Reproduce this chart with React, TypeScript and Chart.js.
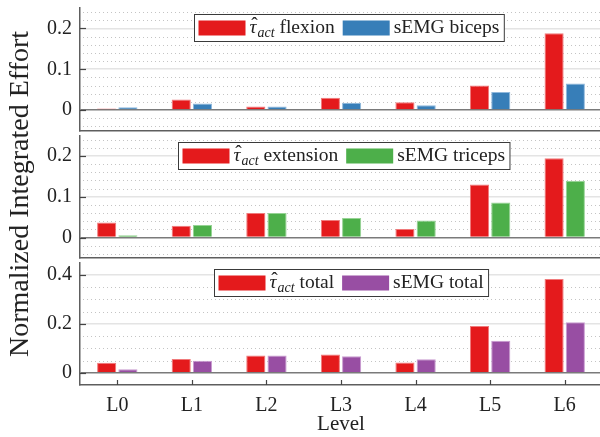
import React, { useEffect, useRef } from 'react';
import { Chart, registerables } from 'chart.js';

Chart.register(...registerables);

const FAMILY = "'Liberation Serif', 'DejaVu Serif', serif";

const levels = ['L0', 'L1', 'L2', 'L3', 'L4', 'L5', 'L6'];

const tauFlexion = [0.004, 0.026, 0.009, 0.030, 0.019, 0.060, 0.188];
const semgBiceps = [0.007, 0.016, 0.009, 0.018, 0.012, 0.044, 0.065];
const tauExtension = [0.037, 0.029, 0.060, 0.043, 0.021, 0.130, 0.194];
const semgTriceps = [0.006, 0.031, 0.060, 0.048, 0.042, 0.086, 0.139];
const tauTotal = [0.041, 0.056, 0.070, 0.074, 0.042, 0.191, 0.383];
const semgTotal = [0.014, 0.049, 0.070, 0.067, 0.055, 0.131, 0.206];

const yTicksSmall = [0, 0.1, 0.2];
const yTicksLarge = [0, 0.2, 0.4];

const RED = '#e41a1c';
const BLUE = '#377eb8';
const GREEN = '#4daf4a';
const PURPLE = '#984ea3';

type PanelDef = {
  top: number;
  height: number;
  padTop: number;
  padBottom: number;
  xHeight: number;
  min: number;
  max: number;
  ticks: number[];
  minorStep: number;
  series: number[][];
  colors: string[];
  edges: string[];
  tauWord: string;
  semgLabel: string;
  legendCenter: number;
  showX: boolean;
};

const panels: PanelDef[] = [
  {
    top: 0, height: 133, padTop: 8, padBottom: 2.5, xHeight: 0,
    min: -0.05, max: 0.25, ticks: yTicksSmall, minorStep: 0.02,
    series: [tauFlexion, semgBiceps], colors: [RED, BLUE], edges: ['#f07a7b', '#8fb8dc'],
    tauWord: 'flexion', semgLabel: 'sEMG biceps', legendCenter: 348.5, showX: false,
  },
  {
    top: 133, height: 127, padTop: 2.5, padBottom: 2, xHeight: 0,
    min: -0.05, max: 0.25, ticks: yTicksSmall, minorStep: 0.02,
    series: [tauExtension, semgTriceps], colors: [RED, GREEN], edges: ['#f07a7b', '#96d394'],
    tauWord: 'extension', semgLabel: 'sEMG triceps', legendCenter: 343.7, showX: false,
  },
  {
    top: 260, height: 177, padTop: 2.5, padBottom: 0, xHeight: 52,
    min: -0.05, max: 0.45, ticks: yTicksLarge, minorStep: 0.05,
    series: [tauTotal, semgTotal], colors: [RED, PURPLE], edges: ['#f07a7b', '#c99bd0'],
    tauWord: 'total', semgLabel: 'sEMG total', legendCenter: 351.2, showX: true,
  },
];

function drawLegend(ctx: CanvasRenderingContext2D, chart: any, p: PanelDef) {
  const area = chart.chartArea;
  const fs = 19.5;
  const reg = `${fs}px ${FAMILY}`;
  const ital = `italic ${fs}px ${FAMILY}`;
  const sub = `italic 14px ${FAMILY}`;
  ctx.save();
  ctx.font = ital;
  const wTau = ctx.measureText('τ').width;
  ctx.font = sub;
  const wSub = ctx.measureText('act').width;
  ctx.font = reg;
  const wWord = ctx.measureText(' ' + p.tauWord).width;
  const wSemg = ctx.measureText(p.semgLabel).width;
  const pad = 4, sw = 47, sh = 15, gapT = 4, gapItem = 8, padR = 5;
  const w1 = wTau + 1 + wSub + wWord;
  const total = pad + sw + gapT + w1 + gapItem + sw + gapT + wSemg + padR;
  const h = 27;
  const x0 = Math.round(p.legendCenter - total / 2) + 0.5;
  const y0 = Math.round(area.top + 6) + 0.5;
  ctx.fillStyle = '#ffffff';
  ctx.fillRect(x0, y0, total, h);
  ctx.strokeStyle = '#3a3a3a';
  ctx.lineWidth = 1;
  ctx.strokeRect(x0, y0, total, h);
  const cy = y0 + h / 2;
  let x = x0 + pad;
  ctx.fillStyle = p.colors[0];
  ctx.fillRect(x, cy - sh / 2, sw, sh);
  x += sw + gapT;
  ctx.fillStyle = '#222222';
  ctx.textAlign = 'left';
  ctx.textBaseline = 'alphabetic';
  const base = cy + 5;
  ctx.font = ital;
  ctx.fillText('τ', x, base);
  ctx.font = `${fs}px ${FAMILY}`;
  ctx.textAlign = 'center';
  ctx.fillText('ˆ', x + wTau / 2 + 1.5, base - 3);
  ctx.textAlign = 'left';
  x += wTau + 1;
  ctx.font = sub;
  ctx.fillText('act', x, base + 4);
  x += wSub;
  ctx.font = reg;
  ctx.fillText(' ' + p.tauWord, x, base);
  x += wWord + gapItem;
  ctx.fillStyle = p.colors[1];
  ctx.fillRect(x, cy - sh / 2, sw, sh);
  x += sw + gapT;
  ctx.fillStyle = '#222222';
  ctx.fillText(p.semgLabel, x, base);
  ctx.restore();
}

function PanelChart({ p }: { p: PanelDef }) {
  const ref = useRef<HTMLCanvasElement | null>(null);
  useEffect(() => {
    if (!ref.current) return;
    const decor = {
      id: 'decor' + p.top,
      beforeDatasetsDraw(chart: any) {
        const ctx = chart.ctx as CanvasRenderingContext2D;
        const area = chart.chartArea;
        const y = chart.scales.y;
        ctx.save();
        ctx.strokeStyle = '#c4c4c4';
        ctx.lineWidth = 1;
        ctx.setLineDash([1, 3]);
        const kStart = Math.ceil(p.min / p.minorStep - 1e-9);
        const kEnd = Math.floor(p.max / p.minorStep + 1e-9);
        for (let k = kStart; k <= kEnd; k++) {
          const v = k * p.minorStep;
          if (Math.abs(v - p.min) < 1e-9 || Math.abs(v - p.max) < 1e-9) continue;
          if (p.ticks.some((t) => Math.abs(t - v) < 1e-9)) continue;
          const py = Math.round(y.getPixelForValue(v)) + 0.5;
          ctx.beginPath();
          ctx.moveTo(area.left + 3, py);
          ctx.lineTo(area.right, py);
          ctx.stroke();
        }
        ctx.restore();
      },
      afterDraw(chart: any) {
        const ctx = chart.ctx as CanvasRenderingContext2D;
        const area = chart.chartArea;
        const y = chart.scales.y;
        const xs = chart.scales.x;
        ctx.save();
        ctx.strokeStyle = '#444444';
        ctx.lineWidth = 1.2;
        for (const t of p.ticks) {
          const py = Math.round(y.getPixelForValue(t)) + 0.5;
          ctx.beginPath();
          ctx.moveTo(area.left, py);
          ctx.lineTo(area.left + 6, py);
          ctx.stroke();
        }
        if (p.showX) {
          for (let i = 0; i < levels.length; i++) {
            const px = Math.round(xs.getPixelForTick(i)) + 0.5;
            ctx.beginPath();
            ctx.moveTo(px, area.bottom);
            ctx.lineTo(px, area.bottom - 5);
            ctx.stroke();
          }
        }
        ctx.restore();
        drawLegend(ctx, chart, p);
      },
    };
    const chart = new Chart(ref.current, {
      type: 'bar',
      data: {
        labels: levels,
        datasets: p.series.map((s, i) => ({
          data: s,
          backgroundColor: p.colors[i],
          borderColor: p.edges[i],
          borderWidth: 1,
          categoryPercentage: 0.57,
          barPercentage: 0.9,
        })),
      },
      options: {
        responsive: false,
        maintainAspectRatio: false,
        animation: false,
        layout: { padding: { top: p.padTop, bottom: p.padBottom, left: 0, right: 2 } },
        plugins: { legend: { display: false }, tooltip: { enabled: false } },
        scales: {
          x: {
            grid: { display: false, drawTicks: false },
            border: { display: true, color: '#5e5e5e', width: 1.5 },
            ticks: {
              display: p.showX,
              font: { family: FAMILY, size: 20 },
              color: '#222222',
              padding: 9,
              maxRotation: 0,
            },
            title: {
              display: p.showX,
              text: 'Level',
              font: { family: FAMILY, size: 21 },
              color: '#222222',
              padding: { top: 0, bottom: 0 },
            },
            afterFit: (s: any) => {
              s.height = p.xHeight;
              s.paddingLeft = 0;
              s.paddingRight = 0;
              s.paddingTop = 0;
              s.paddingBottom = 0;
            },
          },
          y: {
            min: p.min,
            max: p.max,
            afterBuildTicks: (s: any) => {
              s.ticks = p.ticks.map((v) => ({ value: v }));
            },
            ticks: {
              font: { family: FAMILY, size: 20 },
              color: '#222222',
              padding: 8,
              callback: (v: any) => {
                const n = Number(v);
                return Math.abs(n) < 1e-9 ? '0' : String(Math.round(n * 10) / 10);
              },
            },
            grid: {
              drawTicks: false,
              color: (c: any) => (c.tick && Math.abs(c.tick.value) < 1e-9 ? '#7a7a7a' : '#e4e4e4'),
              lineWidth: 1.5,
            },
            border: { display: true, color: '#5e5e5e', width: 1.5 },
            afterFit: (s: any) => {
              s.width = 80;
              s.paddingTop = 0;
              s.paddingBottom = 0;
              s.paddingLeft = 0;
              s.paddingRight = 0;
            },
          },
        },
      },
      plugins: [decor],
    } as any);
    let alive = true;
    const fontsApi = (document as any).fonts;
    if (fontsApi && fontsApi.load) {
      Promise.all([
        fontsApi.load(`20px ${FAMILY}`),
        fontsApi.load(`italic 20px ${FAMILY}`),
        fontsApi.load(`14px ${FAMILY}`),
      ])
        .then(() => {
          if (alive) chart.update();
        })
        .catch(() => {});
    }
    return () => {
      alive = false;
      chart.destroy();
    };
  }, [p]);
  return (
    <canvas
      ref={ref}
      width={604}
      height={p.height}
      style={{ position: 'absolute', left: 0, top: p.top, width: 604, height: p.height }}
    />
  );
}

export default function App() {
  return (
    <div
      style={{
        position: 'fixed',
        left: 0,
        top: 0,
        width: 600,
        height: 437,
        overflow: 'hidden',
        background: '#ffffff',
      }}
    >
      {panels.map((p) => (
        <PanelChart key={p.top} p={p} />
      ))}
      <div
        style={{
          position: 'absolute',
          left: 19,
          top: 194,
          transform: 'translate(-50%, -50%) rotate(-90deg)',
          whiteSpace: 'nowrap',
          font: `28px ${FAMILY}`,
          lineHeight: 1,
          color: '#222222',
        }}
      >
        Normalized Integrated Effort
      </div>
    </div>
  );
}
